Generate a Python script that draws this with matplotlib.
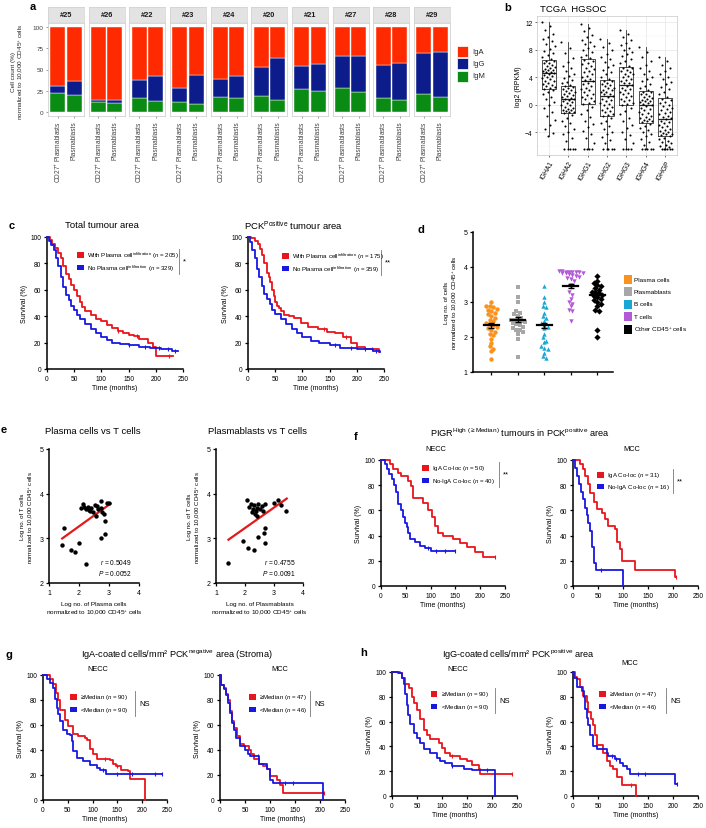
import numpy as np
import matplotlib
matplotlib.use("Agg")
import matplotlib.pyplot as plt
from matplotlib.patches import Rectangle
from matplotlib.lines import Line2D

plt.rcParams['font.family'] = ['Liberation Sans', 'DejaVu Sans']
plt.rcParams['mathtext.fontset'] = 'custom'
plt.rcParams['mathtext.rm'] = 'Liberation Sans'
plt.rcParams['mathtext.it'] = 'Liberation Sans:italic'
plt.rcParams['mathtext.bf'] = 'Liberation Sans:bold'

# ---------------- a: Ig class of plasmablasts per patient ----------------
patients = ['#25', '#26', '#22', '#23', '#24', '#20', '#21', '#27', '#28', '#29']
cell_types = ['CD27$^{+}$ Plasmablasts', 'Plasmablasts']
igm_cd27 = [22, 12, 16, 12, 17, 19, 27, 28, 16, 21]
igm_pb = [20, 10, 13, 9, 16, 14, 24, 23, 14, 18]
igg_cd27 = [8, 2, 22, 16, 22, 34, 27, 38, 39, 48]
igg_pb = [16, 4, 29, 34, 26, 50, 33, 43, 44, 53]
ig_names = ['IgA', 'IgG', 'IgM']
ig_colors = ['#FF2A00', '#0C1C8A', '#0A8C14']

# ---------------- b: TCGA HGSOC expression ----------------
genes = ['IGHA1', 'IGHA2', 'IGHG1', 'IGHG2', 'IGHG3', 'IGHG4', 'IGHGP']
box_med = [4.6, 0.8, 3.4, 1.3, 2.9, 0.0, -2.0]
box_q1 = [2.3, -1.25, 0.05, -1.7, -0.05, -2.6, -4.5]
box_q3 = [6.5, 2.8, 6.6, 3.6, 5.5, 2.0, 1.0]
box_lo = [-4.5, -6.4, -6.4, -6.4, -6.4, -6.4, -6.4]
box_hi = [12.0, 9.1, 11.8, 9.6, 10.8, 8.4, 6.9]
expr = {
    'IGHA1': [12.0, 11.4, 10.8, 10.3, 9.9, 9.5, 9.2, 8.9, 8.5, 8.1, 7.8, 7.5, 7.2, 6.9, 6.7,
              6.4, 6.3, 6.1, 6.0, 5.8, 5.7, 5.5, 5.4, 5.2, 5.1, 5.0, 4.9, 4.8, 4.7, 4.6,
              4.5, 4.3, 4.2, 4.0, 3.9, 3.7, 3.5, 3.4, 3.2, 3.0, 2.9, 2.7, 2.6, 2.4, 2.3,
              2.1, 1.8, 1.5, 1.2, 0.8, 0.4, 0.0, -0.5, -1.0, -1.6, -2.2, -2.9, -3.5, -4.1, -4.6],
    'IGHA2': [9.1, 8.2, 7.5, 6.8, 6.2, 5.7, 5.3, 4.9, 4.5, 4.2, 3.9, 3.6, 3.3, 3.1, 2.9,
              2.7, 2.6, 2.4, 2.3, 2.1, 2.0, 1.8, 1.7, 1.5, 1.4, 1.3, 1.1, 1.0, 0.9, 0.8,
              0.7, 0.5, 0.4, 0.2, 0.0, -0.1, -0.3, -0.4, -0.6, -0.7, -0.8, -0.9, -1.0, -1.1, -1.2,
              -1.5, -1.9, -2.3, -2.7, -3.1, -3.5, -3.9, -4.3, -4.8, -5.3, -6.4, -6.4, -6.4, -6.4, -6.4],
    'IGHG1': [11.8, 11.2, 10.7, 10.2, 9.8, 9.4, 9.1, 8.8, 8.5, 8.2, 7.9, 7.6, 7.3, 7.0, 6.8,
              6.5, 6.3, 6.1, 5.9, 5.6, 5.4, 5.2, 4.9, 4.7, 4.5, 4.2, 4.0, 3.8, 3.6, 3.4,
              3.2, 3.0, 2.8, 2.5, 2.3, 2.1, 1.9, 1.6, 1.4, 1.2, 1.0, 0.8, 0.5, 0.3, 0.1,
              -0.3, -0.8, -1.3, -1.8, -2.3, -2.8, -3.3, -3.8, -4.3, -4.9, -5.5, -6.4, -6.4, -6.4, -6.4],
    'IGHG2': [9.6, 9.0, 8.4, 7.9, 7.4, 7.0, 6.6, 6.2, 5.8, 5.5, 5.1, 4.8, 4.4, 4.1, 3.8,
              3.5, 3.4, 3.2, 3.0, 2.9, 2.7, 2.5, 2.4, 2.2, 2.1, 1.9, 1.8, 1.6, 1.5, 1.3,
              1.1, 0.9, 0.7, 0.5, 0.3, 0.1, -0.1, -0.3, -0.5, -0.7, -0.9, -1.1, -1.3, -1.5, -1.6,
              -1.9, -2.3, -2.7, -3.1, -3.5, -3.9, -4.3, -4.7, -5.1, -5.6, -6.4, -6.4, -6.4, -6.4, -6.4],
    'IGHG3': [10.8, 10.3, 9.8, 9.4, 9.0, 8.7, 8.3, 8.0, 7.7, 7.4, 7.1, 6.7, 6.4, 6.1, 5.7,
              5.4, 5.3, 5.1, 4.9, 4.7, 4.5, 4.4, 4.2, 4.0, 3.8, 3.6, 3.4, 3.2, 3.1, 2.9,
              2.7, 2.5, 2.3, 2.1, 1.9, 1.7, 1.5, 1.3, 1.1, 0.9, 0.7, 0.5, 0.3, 0.1, 0.0,
              -0.4, -0.9, -1.4, -1.9, -2.4, -2.9, -3.4, -3.9, -4.4, -5.0, -5.6, -6.4, -6.4, -6.4, -6.4],
    'IGHG4': [8.4, 7.6, 6.9, 6.3, 5.8, 5.3, 4.9, 4.5, 4.1, 3.7, 3.4, 3.0, 2.7, 2.4, 2.1,
              1.9, 1.8, 1.6, 1.5, 1.3, 1.2, 1.0, 0.9, 0.7, 0.6, 0.5, 0.4, 0.2, 0.1, 0.0,
              -0.2, -0.4, -0.6, -0.8, -1.0, -1.2, -1.4, -1.6, -1.8, -1.9, -2.1, -2.2, -2.3, -2.4, -2.5,
              -2.8, -3.1, -3.4, -3.7, -4.0, -4.3, -4.6, -5.0, -5.4, -5.8, -6.4, -6.4, -6.4, -6.4, -6.4],
    'IGHGP': [6.9, 6.3, 5.8, 5.3, 4.9, 4.5, 4.1, 3.7, 3.3, 3.0, 2.6, 2.3, 1.9, 1.6, 1.2,
              0.9, 0.7, 0.4, 0.2, 0.0, -0.2, -0.4, -0.6, -0.8, -1.0, -1.2, -1.4, -1.6, -1.8, -1.9,
              -2.1, -2.3, -2.5, -2.7, -2.9, -3.1, -3.3, -3.5, -3.7, -3.8, -4.0, -4.1, -4.2, -4.3, -4.4,
              -4.6, -4.8, -5.0, -5.2, -5.4, -5.6, -5.8, -6.0, -6.2, -6.4, -6.4, -6.4, -6.4, -6.4, -6.4],
}

# ---------------- c: survival, total / PCK+ area ----------------
c_tot_red_t = [0, 5, 10, 15, 20, 25, 30, 35, 40, 45, 50, 55, 60, 65, 70, 80, 90, 100, 110, 120, 130, 140, 150, 160, 170, 185, 195, 200, 232]
c_tot_red_s = [100, 98, 95, 92, 88, 84, 78, 72, 68, 64, 60, 55, 51, 47, 44, 41, 38, 36, 33, 31, 29, 27, 26, 25, 23, 20, 17, 10, 10]
c_tot_blue_t = [0, 4, 8, 12, 16, 20, 25, 30, 35, 40, 45, 50, 55, 60, 70, 80, 90, 100, 110, 120, 135, 150, 170, 190, 210, 230, 240]
c_tot_blue_s = [100, 97, 94, 90, 84, 78, 70, 62, 56, 52, 48, 45, 41, 38, 34, 30, 27, 24, 22, 20, 19, 18, 17, 16, 15, 14, 14]
c_pck_red_t = [0, 6, 12, 18, 22, 26, 30, 35, 38, 41, 44, 47, 50, 53, 57, 60, 66, 75, 85, 97, 110, 128, 145, 160, 175, 190, 200, 215, 240]
c_pck_red_s = [100, 99, 97, 95, 91, 86, 80, 73, 70, 66, 60, 55, 51, 48, 46, 44, 41, 40, 39, 35, 32, 30, 28, 27, 24, 20, 17, 15, 13]
c_pck_blue_t = [0, 4, 8, 12, 16, 20, 25, 30, 35, 40, 45, 50, 60, 70, 80, 90, 100, 115, 130, 150, 170, 200, 230, 242]
c_pck_blue_s = [100, 96, 90, 84, 76, 70, 63, 57, 53, 49, 45, 42, 38, 34, 30, 27, 24, 21, 20, 18, 16, 15, 14, 13]

# ---------------- d: immune cell counts ----------------
d_groups = ['Plasma cells', 'Plasmablasts', 'B cells', 'T cells', 'Other CD45$^{+}$ cells']
d_colors = ['#F7931E', '#A7A7A7', '#1AA7D6', '#B35AD6', '#000000']
d_markers = ['o', 's', '^', 'v', 'D']
d_values = [
    [3.0, 2.9, 2.88, 2.85, 2.8, 2.78, 2.75, 2.7, 2.65, 2.6, 2.55, 2.5, 2.45, 2.4, 2.38, 2.35, 2.3, 2.25, 2.2, 2.15, 2.1, 2.05, 1.95, 1.82, 1.75, 1.65, 1.6, 1.38],
    [3.42, 3.15, 3.0, 2.75, 2.7, 2.65, 2.6, 2.55, 2.5, 2.5, 2.48, 2.45, 2.42, 2.4, 2.38, 2.35, 2.3, 2.25, 2.2, 2.2, 2.15, 2.1, 1.95, 1.42],
    [3.47, 3.15, 3.0, 2.9, 2.85, 2.7, 2.6, 2.55, 2.45, 2.4, 2.35, 2.3, 2.25, 2.1, 2.0, 1.9, 1.85, 1.75, 1.7, 1.65, 1.55, 1.45, 1.4],
    [3.88, 3.88, 3.87, 3.87, 3.86, 3.85, 3.85, 3.84, 3.83, 3.82, 3.8, 3.78, 3.75, 3.72, 3.7, 3.65, 3.6, 3.5, 3.42, 3.3, 3.2, 3.1, 3.0, 2.95, 2.88, 2.78, 2.75, 2.45],
    [3.73, 3.6, 3.55, 3.5, 3.45, 3.4, 3.35, 3.3, 3.28, 3.25, 3.2, 3.18, 3.15, 3.1, 3.05, 3.0, 2.95, 2.9, 2.78, 2.75, 2.2, 2.0],
]
d_mean = [2.33, 2.50, 2.33, 3.45, 3.20]
d_sem = [0.07, 0.07, 0.08, 0.06, 0.07]

# ---------------- e: correlations with T cells ----------------
pc_x = [1.44, 1.51, 1.72, 1.88, 1.99, 2.22, 2.07, 2.14, 2.22, 2.29, 2.36, 2.41, 2.53, 2.55, 2.64, 2.72, 2.74, 2.77, 2.83, 2.85, 2.85, 2.72, 2.92, 2.99, 2.18, 2.32, 2.47, 2.60]
pc_y = [2.86, 3.23, 2.74, 2.69, 2.89, 2.42, 3.67, 3.76, 3.65, 3.71, 3.61, 3.69, 3.74, 3.50, 3.65, 3.84, 3.69, 3.59, 3.54, 3.39, 3.10, 3.00, 3.80, 3.78, 3.70, 3.64, 3.60, 3.72]
pb_x = [1.41, 1.94, 2.11, 2.31, 2.46, 2.66, 2.69, 2.69, 2.08, 2.20, 2.23, 2.26, 2.31, 2.34, 2.40, 2.43, 2.46, 2.52, 2.57, 2.63, 2.69, 3.00, 3.15, 3.23, 3.41, 2.15, 2.37]
pb_y = [2.44, 2.93, 2.78, 2.73, 3.02, 3.11, 3.24, 2.89, 3.85, 3.76, 3.59, 3.65, 3.74, 3.54, 3.69, 3.50, 3.76, 3.65, 3.73, 3.61, 3.76, 3.80, 3.86, 3.74, 3.61, 3.70, 3.62]
pc_fit = (0.484, 2.30, 1.44, 3.05)   # slope, intercept, x from, x to
pb_fit = (0.458, 2.315, 1.43, 3.44)
pc_stats = ['$\\it{r}$ = 0.5049', '$\\it{P}$ = 0.0052']
pb_stats = ['$\\it{r}$ = 0.4755', '$\\it{P}$ = 0.0091']

# ---------------- f: PIGR high tumours ----------------
f_necc_red_t = [0, 18, 25, 35, 40, 55, 60, 65, 85, 95, 102, 109, 114, 126, 146, 159, 173, 190, 205, 230]
f_necc_red_s = [100, 97, 93, 90, 87, 83, 79, 70, 66, 60, 55, 48, 42, 40, 37, 34, 31, 27, 23, 23]
f_necc_blue_t = [0, 8, 13, 17, 22, 27, 31, 35, 40, 44, 48, 52, 55, 58, 69, 79, 89, 100, 150]
f_necc_blue_s = [100, 97, 93, 89, 85, 80, 75, 65, 60, 55, 50, 47, 42, 37, 35, 32, 30, 28, 28]
f_mcc_red_t = [0, 14, 19, 24, 29, 34, 41, 47, 57, 64, 70, 84, 87, 94, 97, 124, 204, 207]
f_mcc_red_s = [100, 97, 93, 87, 81, 74, 67, 61, 58, 53, 48, 45, 35, 29, 20, 13, 7, 7]
f_mcc_blue_t = [0, 4, 8, 12, 16, 20, 24, 27, 30, 33, 37, 41, 45, 100]
f_mcc_blue_s = [100, 94, 87, 81, 75, 69, 62, 56, 50, 44, 31, 18, 13, 0]

# ---------------- g: IgA-coated cells, stroma ----------------
g_necc_red_t = [0, 14, 21, 27, 31, 34, 44, 51, 61, 71, 84, 88, 94, 101, 108, 135, 141, 148, 158, 172, 175, 206]
g_necc_red_s = [100, 97, 93, 86, 80, 72, 64, 59, 53, 51, 50, 48, 41, 37, 33, 32, 29, 27, 24, 23, 17, 0]
g_necc_blue_t = [0, 8, 14, 20, 24, 28, 31, 34, 41, 48, 54, 58, 61, 68, 81, 94, 108, 115, 128, 240]
g_necc_blue_s = [100, 97, 94, 90, 81, 74, 69, 63, 56, 53, 52, 47, 39, 34, 31, 28, 26, 24, 21, 21]
g_mcc_red_t = [0, 2, 8, 12, 16, 20, 24, 28, 33, 40, 47, 57, 62, 67, 77, 86, 93, 100, 113, 120, 125, 208]
g_mcc_red_s = [100, 92, 90, 85, 80, 71, 63, 58, 51, 45, 43, 40, 37, 33, 29, 27, 25, 19, 16, 12, 6, 6]
g_mcc_blue_t = [0, 2, 8, 12, 16, 20, 24, 28, 32, 40, 50, 56, 60, 77, 93, 100, 105, 206]
g_mcc_blue_s = [100, 92, 89, 84, 78, 70, 62, 56, 50, 43, 40, 37, 35, 29, 25, 16, 14, 0]

# ---------------- h: IgG-coated cells, PCK+ ----------------
h_necc_red_t = [0, 16, 19, 26, 33, 39, 43, 49, 56, 63, 69, 76, 93, 99, 106, 116, 136, 149, 159, 173, 176, 239]
h_necc_red_s = [100, 99, 95, 90, 87, 80, 75, 69, 62, 53, 49, 46, 43, 39, 35, 32, 30, 28, 25, 22, 18, 18]
h_necc_blue_t = [0, 12, 20, 23, 26, 29, 32, 36, 43, 49, 56, 63, 76, 89, 96, 106, 119, 143, 160, 206]
h_necc_blue_s = [100, 99, 95, 90, 82, 73, 65, 58, 51, 47, 43, 38, 35, 31, 28, 26.5, 24.5, 22, 21, 0]
h_mcc_red_t = [0, 3, 7, 13, 20, 27, 30, 35, 40, 43, 47, 60, 67, 73, 80, 87, 97, 125]
h_mcc_red_s = [100, 96, 94, 88, 81, 76, 68, 62, 57, 49, 41, 35, 28, 24, 22, 15, 9, 0]
h_mcc_blue_t = [0, 2, 7, 17, 22, 24, 27, 30, 34, 40, 47, 67, 70, 84, 94, 100, 107, 114, 205, 208]
h_mcc_blue_s = [100, 95, 88, 85, 80, 70, 63, 57, 49, 40, 38, 35, 32, 30, 27, 24, 22, 17.5, 10, 10]

RED = '#E8161C'
BLUE = '#1818E0'

W, H = 706, 829
fig = plt.figure(figsize=(W / 100, H / 100), dpi=100)


def add_ax(x0, y0, x1, y1):
    return fig.add_axes([x0 / W, 1 - y1 / H, (x1 - x0) / W, (y1 - y0) / H])


def ftext(x, y, s, **kw):
    kw.setdefault('va', 'center')
    fig.text(x / W, 1 - y / H, s, **kw)


def letter(x, y, s):
    ftext(x, y, s, fontsize=8, fontweight='bold', ha='left')


# ======================= panel a =======================
letter(30, 7, 'a')
pitch = (414 - 48) / 9
for i, p in enumerate(patients):
    x0 = 48 + i * pitch
    strip = add_ax(x0, 8, x0 + 36, 23)
    strip.set_facecolor('#E3E3E3')
    strip.set_xticks([]); strip.set_yticks([])
    for sp in strip.spines.values():
        sp.set_color('#D0D0D0'); sp.set_linewidth(0.5)
    strip.text(0.5, 0.5, p, ha='center', va='center', fontsize=5.3, fontweight='bold',
               color='#1A1A1A', transform=strip.transAxes)

    ax = add_ax(x0, 24, x0 + 36, 117)
    xs = [1, 2]
    m = [igm_cd27[i], igm_pb[i]]
    g = [igg_cd27[i], igg_pb[i]]
    a = [100 - m[k] - g[k] for k in range(2)]
    ax.bar(xs, m, 0.9, color=ig_colors[2], edgecolor='white', linewidth=0.3)
    ax.bar(xs, g, 0.9, bottom=m, color=ig_colors[1], edgecolor='white', linewidth=0.3)
    ax.bar(xs, a, 0.9, bottom=[m[k] + g[k] for k in range(2)], color=ig_colors[0],
           edgecolor='white', linewidth=0.3)
    ax.set_xlim(0.4, 2.6); ax.set_ylim(-5, 105)
    ax.set_xticks(xs)
    ax.set_xticklabels(cell_types, rotation=90, fontsize=4.7, color='#404040')
    ax.tick_params(axis='x', length=1.5, width=0.4, color='#555555', pad=1.5)
    ax.set_yticks([0, 25, 50, 75, 100])
    if i == 0:
        ax.tick_params(axis='y', length=1.5, width=0.4, color='#555555', labelsize=4.6,
                       labelcolor='#404040', pad=1.5)
    else:
        ax.tick_params(axis='y', length=0, labelleft=False)
    for sp in ax.spines.values():
        sp.set_color('#C8C8C8'); sp.set_linewidth(0.5)

ftext(18, 72, 'Cell count (%)\nnormalized to 10,000 CD45$^{+}$ cells', rotation=90,
      ha='center', fontsize=4.6, multialignment='center', color='#262626')
for k, (nm, col) in enumerate(zip(ig_names, ig_colors)):
    yy = 52 + k * 12.5
    fig.add_artist(Rectangle((457 / W, 1 - (yy + 5.5) / H), 11 / W, 11 / H,
                             transform=fig.transFigure, facecolor=col, edgecolor='white', lw=0.5))
    ftext(472, yy, nm, fontsize=5.5, ha='left', color='#262626')

# ======================= panel b =======================
letter(504, 8, 'b')
ftext(540, 9, 'TCGA  HGSOC', fontsize=6.8, ha='left')
axb = add_ax(537, 17, 677, 156)
stats = [dict(med=box_med[k], q1=box_q1[k], q3=box_q3[k], whislo=box_lo[k],
              whishi=box_hi[k], fliers=[]) for k in range(len(genes))]
axb.bxp(stats, positions=range(1, 8), widths=0.72, showcaps=False,
        boxprops=dict(color='#333333', lw=0.6), whiskerprops=dict(color='#333333', lw=0.6),
        medianprops=dict(color='#222222', lw=0.9), zorder=2)
for k, gname in enumerate(genes):
    vals = expr[gname]
    jit = [((j * 0.6180339) % 1 - 0.5) * 0.7 for j in range(len(vals))]
    axb.scatter([k + 1 + d for d in jit], vals, s=2.2, color='black', lw=0, zorder=3)
axb.set_xlim(0.4, 7.6); axb.set_ylim(-7.3, 12.9)
axb.set_yticks([-4, 0, 4, 8, 12])
axb.set_yticks([-6, -2, 2, 6, 10], minor=True)
axb.set_xticks(range(1, 8))
axb.set_xticklabels(genes, rotation=60, ha='right', rotation_mode='anchor', fontsize=4.6)
axb.grid(True, which='major', color='#E6E6E6', lw=0.5)
axb.grid(True, which='minor', axis='y', color='#F2F2F2', lw=0.3)
axb.set_axisbelow(True)
axb.tick_params(which='both', length=1.5, width=0.4, labelsize=4.8, pad=1.5)
axb.tick_params(which='minor', length=0)
for sp in axb.spines.values():
    sp.set_color('#C8C8C8'); sp.set_linewidth(0.5)
axb.set_ylabel('log2 (RPKM)', fontsize=5, labelpad=2)


# ======================= survival helpers =======================
def km_axes(box):
    ax = add_ax(*box)
    ax.set_xlim(0, 250); ax.set_ylim(0, 100)
    ax.set_xticks(range(0, 251, 50)); ax.set_yticks(range(0, 101, 20))
    for side in ['top', 'right']:
        ax.spines[side].set_visible(False)
    for side in ['left', 'bottom']:
        ax.spines[side].set_linewidth(1.1)
    ax.tick_params(length=2.5, width=0.9, labelsize=4.8, pad=1.5)
    ax.set_xlabel('Time (months)', fontsize=5, labelpad=2)
    ax.set_ylabel('Survival (%)', fontsize=5, labelpad=1.5)
    return ax


def km(ax, t, s, color, censor=()):
    ax.step(t, s, where='post', color=color, lw=1.3, clip_on=False, zorder=3)
    for c in censor:
        j = np.searchsorted(t, c, side='right') - 1
        ax.plot([c], [s[j]], marker='|', ms=2.5, mew=0.8, color=color, clip_on=False, zorder=3)


def km_legend(x, y, labels, xb, sig, dy=12.5):
    for k, (lab, col) in enumerate(zip(labels, [RED, BLUE])):
        yy = y + k * dy
        fig.add_artist(Rectangle((x / W, 1 - (yy + 2.8) / H), 6.5 / W, 5.6 / H,
                                 transform=fig.transFigure, facecolor=col, edgecolor='none'))
        ftext(x + 10, yy, lab, fontsize=4.4, ha='left')
    fig.add_artist(Line2D([xb / W, xb / W], [1 - (y - 6) / H, 1 - (y + dy + 6) / H],
                          transform=fig.transFigure, color='#777777', lw=0.6))
    ftext(xb + 4, y + dy / 2, sig, fontsize=5.5, ha='left')


# ======================= panel c =======================
letter(9, 226, 'c')
ftext(102, 226, 'Total tumour area', fontsize=6.8, ha='center')
ftext(293, 226, 'PCK$^{\\mathrm{Positive}}$ tumour area', fontsize=6.8, ha='center')
ax = km_axes((47, 238, 183, 370))
km(ax, c_tot_red_t, c_tot_red_s, RED, censor=[130, 165, 225])
km(ax, c_tot_blue_t, c_tot_blue_s, BLUE, censor=[150, 180, 205, 222, 236])
km_legend(77, 256, ['With Plasma cell$^{\\mathrm{infiltration}}$ ($\\it{n}$ = 205)',
                    'No Plasma cell$^{\\mathrm{infiltration}}$ ($\\it{n}$ = 329)'], 179, '*')
ax = km_axes((248, 238, 384, 370))
km(ax, c_pck_red_t, c_pck_red_s, RED, censor=[140, 180, 228])
km(ax, c_pck_blue_t, c_pck_blue_s, BLUE, censor=[160, 190, 215, 235])
km_legend(282, 257, ['With Plasma cell$^{\\mathrm{infiltration}}$ ($\\it{n}$ = 175)',
                     'No Plasma cell$^{\\mathrm{infiltration}}$ ($\\it{n}$ = 359)'], 381, '**')

# ======================= panel d =======================
letter(417, 230, 'd')
axd = add_ax(473, 233, 613, 373)
for k, vals in enumerate(d_values):
    v = np.asarray(vals)
    bins = np.round(v / 0.13).astype(int)
    xs = np.zeros(len(v))
    for b in np.unique(bins):
        idx = np.where(bins == b)[0]
        xs[idx] = k + 1 + (np.arange(len(idx)) - (len(idx) - 1) / 2) * 0.13
    axd.scatter(xs, v, s=10, marker=d_markers[k], color=d_colors[k], lw=0, zorder=2)
    axd.errorbar([k + 1], [d_mean[k]], yerr=[d_sem[k]], color='black', capsize=2.5,
                 elinewidth=1.0, capthick=1.0, zorder=4)
    axd.plot([k + 0.72, k + 1.28], [d_mean[k]] * 2, color='black', lw=1.6, zorder=4)
axd.set_xlim(0.3, 5.6); axd.set_ylim(1, 5)
axd.set_xticks(range(1, 6)); axd.set_xticklabels([])
axd.set_yticks([1, 2, 3, 4, 5])
for side in ['top', 'right']:
    axd.spines[side].set_visible(False)
for side in ['left', 'bottom']:
    axd.spines[side].set_linewidth(1.1)
axd.tick_params(length=2.5, width=0.9, labelsize=5, pad=1.5)
axd.set_ylabel('Log no. of cells\nnormalized to 10,000 CD45$^{+}$ cells', fontsize=4.5,
               labelpad=3)
for k, (nm, col) in enumerate(zip(d_groups, d_colors)):
    yy = 280 + k * 12.5
    fig.add_artist(Rectangle((624 / W, 1 - (yy + 4.5) / H), 8 / W, 9 / H,
                             transform=fig.transFigure, facecolor=col, edgecolor='none'))
    ftext(634, yy, nm, fontsize=4.6, ha='left')

# ======================= panel e =======================
letter(1, 430, 'e')


def corr_axes(box, x, y, fit, st, title, tx, xlabel):
    ax = add_ax(*box)
    ax.scatter(x, y, s=10, color='black', lw=0, zorder=3)
    sl, ic, xa, xb = fit
    ax.plot([xa, xb], [sl * xa + ic, sl * xb + ic], color='#E31A1C', lw=1.6, zorder=2)
    ax.set_xlim(1, 4); ax.set_ylim(2, 5)
    ax.set_xticks([1, 2, 3, 4]); ax.set_yticks([2, 3, 4, 5])
    for side in ['top', 'right']:
        ax.spines[side].set_visible(False)
    for side in ['left', 'bottom']:
        ax.spines[side].set_linewidth(1.1)
    ax.tick_params(length=2.5, width=0.9, labelsize=5, pad=1.5)
    ax.set_ylabel('Log no. of T cells\nnormalized to 10,000 CD45$^{+}$ cells', fontsize=4.4,
                  labelpad=3)
    ax.set_xlabel(xlabel, fontsize=4.6, labelpad=4)
    ax.text(0.92, 0.16, st[0], transform=ax.transAxes, ha='right', va='center', fontsize=4.8)
    ax.text(0.92, 0.075, st[1], transform=ax.transAxes, ha='right', va='center', fontsize=4.8)
    ftext(tx, 432, title, fontsize=6.8, ha='center')
    return ax


corr_axes((49, 450, 139, 584), pc_x, pc_y, pc_fit, pc_stats, 'Plasma cells vs T cells', 93,
          'Log no. of Plasma cells\nnormalized to 10,000 CD45$^{+}$ cells')
corr_axes((216, 450, 303, 584), pb_x, pb_y, pb_fit, pb_stats, 'Plasmablasts vs T cells', 258,
          'Log no. of Plasmablasts\nnormalized to 10,000 CD45$^{+}$ cells')

# ======================= panel f =======================
letter(354, 437, 'f')
ftext(520, 433, 'PIGR$^{\\mathrm{High\\ (\\geq Median)}}$ tumours in PCK$^{\\mathrm{positive}}$ area',
      fontsize=6.6, ha='center')
ftext(436, 450, 'NECC', fontsize=5.3, ha='center')
ftext(632, 450, 'MCC', fontsize=5.3, ha='center')
ax = km_axes((381, 461, 505, 587))
km(ax, f_necc_red_t, f_necc_red_s, RED, censor=[230])
km(ax, f_necc_blue_t, f_necc_blue_s, BLUE, censor=[95, 110, 130, 150])
km_legend(422, 469, ['IgA Co-loc ($\\it{n}$ = 50)', 'No-IgA Co-loc ($\\it{n}$ = 40)'], 499, '**')
ax = km_axes((573, 461, 698, 587))
km(ax, f_mcc_red_t, f_mcc_red_s, RED, censor=[207])
km(ax, f_mcc_blue_t, f_mcc_blue_s, BLUE, censor=[55])
km_legend(597, 476, ['IgA Co-loc ($\\it{n}$ = 31)', 'No-IgA Co-loc ($\\it{n}$ = 16)'], 673, '**',
          dy=11.5)

# ======================= panel g =======================
letter(5, 655, 'g')
ftext(177, 655, 'IgA-coated cells/mm² PCK$^{\\mathrm{negative}}$ area (Stroma)', fontsize=6.6,
      ha='center')
ftext(98, 670, 'NECC', fontsize=5.3, ha='center')
ftext(280, 670, 'MCC', fontsize=5.3, ha='center')
ax = km_axes((43, 676, 167, 801))
km(ax, g_necc_red_t, g_necc_red_s, RED, censor=[125, 150])
km(ax, g_necc_blue_t, g_necc_blue_s, BLUE, censor=[120, 150, 180, 225, 240])
km_legend(70, 698, ['≥Median ($\\it{n}$ = 90)', '<Median ($\\it{n}$ = 90)'], 135, 'NS')
ax = km_axes((220, 676, 345, 801))
km(ax, g_mcc_red_t, g_mcc_red_s, RED, censor=[208])
km(ax, g_mcc_blue_t, g_mcc_blue_s, BLUE, censor=[75, 130, 145])
km_legend(249, 698, ['≥Median ($\\it{n}$ = 47)', '<Median ($\\it{n}$ = 46)'], 310, 'NS')

# ======================= panel h =======================
letter(360, 653, 'h')
ftext(518, 655, 'IgG-coated cells/mm² PCK$^{\\mathrm{positive}}$ area', fontsize=6.6, ha='center')
ftext(458, 670, 'NECC', fontsize=5.3, ha='center')
ftext(630, 664, 'MCC', fontsize=5.3, ha='center')
ax = km_axes((392, 673, 517, 797))
km(ax, h_necc_red_t, h_necc_red_s, RED, censor=[120, 239])
km(ax, h_necc_blue_t, h_necc_blue_s, BLUE, censor=[120, 190])
km_legend(431, 695, ['≥Median ($\\it{n}$ = 90)', '<Median ($\\it{n}$ = 90)'], 495, 'NS')
ax = km_axes((573, 673, 698, 797))
km(ax, h_mcc_red_t, h_mcc_red_s, RED, censor=[115])
km(ax, h_mcc_blue_t, h_mcc_blue_s, BLUE, censor=[78, 85, 130, 145, 208])
km_legend(599, 695, ['≥Median ($\\it{n}$ = 47)', '<Median ($\\it{n}$ = 46)'], 666, 'NS')

fig.savefig('out.png', dpi=100)
